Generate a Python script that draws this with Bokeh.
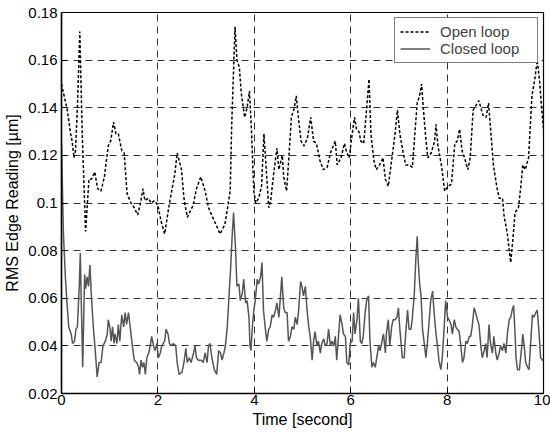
from bokeh.plotting import figure
from bokeh.models import FixedTicker, Legend, LegendItem
from bokeh.embed import file_html
from bokeh.resources import INLINE

# ---------------- data ----------------
t_open = [0.00, 0.12, 0.19, 0.22, 0.26, 0.29, 0.33, 0.38, 0.43, 0.50, 0.57, 0.62, 0.69, 0.75,
          0.82, 0.89, 0.97, 1.02, 1.08, 1.13, 1.18, 1.25, 1.30, 1.36, 1.44, 1.51, 1.58, 1.64,
          1.69, 1.73, 1.80, 1.86, 1.93, 2.00, 2.07, 2.14, 2.24, 2.35, 2.40, 2.49, 2.54, 2.61,
          2.73, 2.80, 2.89, 2.98, 3.05, 3.18, 3.29, 3.39, 3.50, 3.53, 3.60, 3.64, 3.69, 3.73,
          3.80, 3.85, 3.90, 3.94, 3.99, 4.03, 4.09, 4.15, 4.20, 4.30, 4.34, 4.40, 4.47, 4.51,
          4.58, 4.61, 4.67, 4.72, 4.77, 4.83, 4.87, 4.92, 4.97, 5.03, 5.10, 5.17, 5.23, 5.29,
          5.36, 5.43, 5.51, 5.58, 5.68, 5.72, 5.80, 5.87, 5.92, 5.97, 6.03, 6.08, 6.12, 6.17,
          6.21, 6.27, 6.34, 6.38, 6.42, 6.48, 6.53, 6.60, 6.67, 6.72, 6.78, 6.85, 6.92, 6.97,
          7.02, 7.09, 7.14, 7.21, 7.28, 7.33, 7.38, 7.43, 7.47, 7.51, 7.55, 7.60, 7.67, 7.74,
          7.77, 7.81, 7.88, 7.92, 7.95, 8.02, 8.09, 8.16, 8.21, 8.26, 8.31, 8.36, 8.43, 8.48,
          8.54, 8.60, 8.66, 8.74, 8.81, 8.86, 8.91, 8.96, 9.03, 9.08, 9.15, 9.18, 9.25, 9.32,
          9.37, 9.41, 9.48, 9.53, 9.57, 9.62, 9.69, 9.76, 9.82, 9.87, 9.92, 9.96, 10.0]
open_loop = [0.150, 0.139, 0.129, 0.126, 0.119, 0.122, 0.140, 0.172, 0.129, 0.088, 0.110, 0.110,
             0.113, 0.106, 0.105, 0.111, 0.124, 0.126, 0.134, 0.129, 0.129, 0.122, 0.121, 0.104,
             0.100, 0.098, 0.095, 0.100, 0.106, 0.101, 0.102, 0.100, 0.101, 0.099, 0.092, 0.087,
             0.100, 0.112, 0.121, 0.114, 0.102, 0.094, 0.099, 0.106, 0.111, 0.105, 0.098, 0.092,
             0.087, 0.091, 0.105, 0.132, 0.174, 0.160, 0.157, 0.146, 0.136, 0.140, 0.147, 0.131,
             0.105, 0.100, 0.102, 0.107, 0.129, 0.098, 0.101, 0.112, 0.123, 0.114, 0.120, 0.111,
             0.105, 0.120, 0.136, 0.140, 0.145, 0.135, 0.126, 0.124, 0.127, 0.136, 0.126, 0.125,
             0.118, 0.114, 0.115, 0.121, 0.126, 0.116, 0.119, 0.125, 0.121, 0.119, 0.129, 0.136,
             0.131, 0.130, 0.126, 0.125, 0.142, 0.152, 0.129, 0.118, 0.114, 0.116, 0.119, 0.110,
             0.107, 0.118, 0.129, 0.139, 0.129, 0.121, 0.116, 0.116, 0.115, 0.129, 0.142, 0.145,
             0.150, 0.139, 0.129, 0.119, 0.121, 0.126, 0.133, 0.124, 0.116, 0.110, 0.105, 0.107,
             0.108, 0.125, 0.126, 0.131, 0.122, 0.119, 0.114, 0.119, 0.139, 0.141, 0.143, 0.137,
             0.136, 0.142, 0.129, 0.116, 0.107, 0.102, 0.102, 0.095, 0.087, 0.075, 0.086, 0.096,
             0.098, 0.107, 0.116, 0.114, 0.119, 0.145, 0.152, 0.160, 0.151, 0.140, 0.131]

t_closed = [0.00, 0.04, 0.08, 0.11, 0.15, 0.20, 0.23, 0.27, 0.30, 0.33, 0.37, 0.39, 0.41, 0.44,
            0.48, 0.50, 0.53, 0.56, 0.59, 0.62, 0.66, 0.70, 0.74, 0.78, 0.82, 0.86, 0.91, 0.95,
            0.97, 1.01, 1.03, 1.06, 1.09, 1.11, 1.15, 1.18, 1.21, 1.25, 1.29, 1.32, 1.35, 1.39,
            1.43, 1.47, 1.51, 1.56, 1.60, 1.62, 1.65, 1.68, 1.71, 1.74, 1.77, 1.81, 1.84, 1.87,
            1.91, 1.94, 1.98, 2.01, 2.05, 2.08, 2.14, 2.17, 2.21, 2.24, 2.28, 2.32, 2.37, 2.40,
            2.44, 2.50, 2.54, 2.58, 2.61, 2.65, 2.69, 2.74, 2.77, 2.80, 2.84, 2.90, 2.94, 2.98,
            3.02, 3.05, 3.08, 3.12, 3.17, 3.22, 3.26, 3.30, 3.33, 3.37, 3.40, 3.44, 3.47, 3.51,
            3.54, 3.57, 3.61, 3.64, 3.68, 3.71, 3.75, 3.78, 3.82, 3.85, 3.89, 3.91, 3.93, 3.96,
            3.99, 4.02, 4.06, 4.09, 4.13, 4.16, 4.19, 4.23, 4.26, 4.30, 4.33, 4.37, 4.40, 4.44,
            4.47, 4.51, 4.54, 4.57, 4.61, 4.64, 4.68, 4.71, 4.75, 4.78, 4.82, 4.85, 4.89, 4.92,
            4.96, 4.99, 5.02, 5.06, 5.09, 5.13, 5.16, 5.20, 5.23, 5.26, 5.30, 5.33, 5.37, 5.40,
            5.44, 5.47, 5.51, 5.54, 5.58, 5.61, 5.65, 5.68, 5.71, 5.75, 5.78, 5.82, 5.85, 5.89,
            5.92, 5.96, 5.99, 6.03, 6.06, 6.09, 6.13, 6.16, 6.20, 6.23, 6.26, 6.30, 6.33, 6.37,
            6.40, 6.44, 6.47, 6.51, 6.54, 6.58, 6.61, 6.64, 6.68, 6.72, 6.74, 6.78, 6.81, 6.85,
            6.88, 6.92, 6.96, 6.99, 7.02, 7.05, 7.07, 7.11, 7.14, 7.18, 7.21, 7.25, 7.28, 7.32,
            7.35, 7.38, 7.40, 7.43, 7.46, 7.49, 7.52, 7.56, 7.59, 7.63, 7.66, 7.70, 7.73, 7.77,
            7.80, 7.83, 7.87, 7.90, 7.94, 7.97, 8.01, 8.04, 8.08, 8.11, 8.15, 8.18, 8.21, 8.25,
            8.28, 8.32, 8.35, 8.39, 8.42, 8.46, 8.49, 8.52, 8.56, 8.59, 8.63, 8.66, 8.70, 8.73,
            8.77, 8.80, 8.83, 8.87, 8.90, 8.94, 8.97, 9.01, 9.04, 9.08, 9.11, 9.15, 9.18, 9.22,
            9.25, 9.29, 9.32, 9.35, 9.38, 9.41, 9.43, 9.46, 9.50, 9.55, 9.57, 9.60, 9.63, 9.67,
            9.70, 9.73, 9.77, 9.80, 9.84, 9.87, 9.91, 9.94, 9.98, 10.0]
closed_loop = [0.125, 0.087, 0.069, 0.059, 0.048, 0.045, 0.041, 0.042, 0.047, 0.048, 0.066, 0.079,
               0.059, 0.031, 0.070, 0.064, 0.069, 0.065, 0.074, 0.061, 0.048, 0.038, 0.027, 0.033,
               0.033, 0.040, 0.042, 0.045, 0.051, 0.047, 0.042, 0.048, 0.041, 0.045, 0.041, 0.049,
               0.042, 0.053, 0.048, 0.054, 0.049, 0.054, 0.047, 0.040, 0.034, 0.033, 0.031, 0.028,
               0.034, 0.031, 0.033, 0.028, 0.035, 0.037, 0.040, 0.044, 0.040, 0.038, 0.041, 0.035,
               0.037, 0.040, 0.042, 0.047, 0.045, 0.041, 0.040, 0.041, 0.040, 0.033, 0.028, 0.029,
               0.033, 0.039, 0.033, 0.035, 0.033, 0.037, 0.040, 0.035, 0.034, 0.034, 0.033, 0.037,
               0.033, 0.040, 0.041, 0.035, 0.030, 0.028, 0.038, 0.037, 0.034, 0.037, 0.040, 0.048,
               0.059, 0.073, 0.086, 0.096, 0.081, 0.065, 0.066, 0.059, 0.062, 0.068, 0.058, 0.059,
               0.052, 0.040, 0.038, 0.048, 0.055, 0.059, 0.068, 0.066, 0.069, 0.075, 0.055, 0.047,
               0.042, 0.047, 0.048, 0.053, 0.052, 0.055, 0.058, 0.052, 0.060, 0.069, 0.056, 0.054,
               0.054, 0.042, 0.044, 0.048, 0.047, 0.052, 0.049, 0.055, 0.067, 0.065, 0.061, 0.065,
               0.056, 0.048, 0.044, 0.034, 0.042, 0.046, 0.040, 0.042, 0.037, 0.041, 0.043, 0.040,
               0.041, 0.047, 0.040, 0.042, 0.040, 0.044, 0.034, 0.045, 0.053, 0.049, 0.045, 0.044,
               0.033, 0.032, 0.041, 0.042, 0.054, 0.045, 0.051, 0.060, 0.042, 0.041, 0.044, 0.054,
               0.059, 0.061, 0.042, 0.031, 0.033, 0.031, 0.035, 0.040, 0.038, 0.041, 0.045, 0.037,
               0.045, 0.051, 0.040, 0.048, 0.051, 0.051, 0.052, 0.056, 0.047, 0.040, 0.035, 0.035,
               0.045, 0.055, 0.047, 0.047, 0.052, 0.062, 0.076, 0.086, 0.076, 0.066, 0.061, 0.047,
               0.042, 0.035, 0.041, 0.051, 0.059, 0.063, 0.054, 0.045, 0.040, 0.034, 0.030, 0.035,
               0.048, 0.059, 0.052, 0.051, 0.049, 0.045, 0.051, 0.048, 0.047, 0.046, 0.041, 0.033,
               0.035, 0.042, 0.041, 0.044, 0.044, 0.048, 0.056, 0.054, 0.051, 0.049, 0.040, 0.035,
               0.038, 0.041, 0.035, 0.049, 0.041, 0.037, 0.044, 0.037, 0.034, 0.037, 0.040, 0.038,
               0.041, 0.037, 0.045, 0.051, 0.052, 0.055, 0.057, 0.045, 0.035, 0.030, 0.030, 0.040,
               0.045, 0.040, 0.033, 0.031, 0.030, 0.040, 0.053, 0.052, 0.054, 0.055, 0.045, 0.035,
               0.034, 0.034]

x_ticks = [0, 2, 4, 6, 8, 10]
x_tick_labels = ["0", "2", "4", "6", "8", "10"]
y_ticks = [0.02, 0.04, 0.06, 0.08, 0.10, 0.12, 0.14, 0.16, 0.18]
y_tick_labels = ["0.02", "0.04", "0.06", "0.08", "0.1", "0.12", "0.14", "0.16", "0.18"]
series_names = ["Open loop", "Closed loop"]

FONT = "Liberation Sans"

p = figure(output_backend="svg", toolbar_location=None,
           width=550, height=435,
           min_border_left=61, min_border_right=7, min_border_top=12, min_border_bottom=42,
           x_range=(0, 10), y_range=(0.02, 0.18),
           background_fill_color="white", border_fill_color="white")

r_open = p.line(t_open, open_loop, line_color="black", line_width=1.5, line_dash="3 2")
r_closed = p.line(t_closed, closed_loop, line_color="#555555", line_width=1.5)

for ax, ticks, labels in ((p.xaxis[0], x_ticks, x_tick_labels), (p.yaxis[0], y_ticks, y_tick_labels)):
    ax.ticker = FixedTicker(ticks=ticks)
    ax.major_label_overrides = {t: l for t, l in zip(ticks, labels)}
    ax.major_tick_in = 5
    ax.major_tick_out = 0
    ax.minor_tick_in = 0
    ax.minor_tick_out = 0
    ax.axis_line_color = "black"
    ax.axis_line_width = 1.5
    ax.major_tick_line_color = "black"
    ax.major_label_text_font = FONT
    ax.major_label_text_color = "black"
    ax.axis_label_text_font = FONT
    ax.axis_label_text_font_style = "normal"
    ax.axis_label_text_color = "black"

p.xaxis.axis_label = "Time [second]"
p.yaxis.axis_label = "RMS Edge Reading [\u00b5m]"
p.xaxis.major_label_text_font_size = "15px"
p.xaxis.axis_label_text_font_size = "16px"
p.yaxis.major_label_text_font_size = "15px"
p.yaxis.axis_label_text_font_size = "16px"
p.xaxis.major_label_standoff = 1
p.xaxis.axis_label_standoff = 3
p.yaxis.major_label_standoff = 4
p.yaxis.axis_label_standoff = 4

for g in (p.xgrid[0], p.ygrid[0]):
    g.grid_line_color = "black"
    g.grid_line_alpha = 0.8
    g.grid_line_dash = "7 5"
    g.grid_line_width = 1
p.xgrid[0].ticker = FixedTicker(ticks=x_ticks)
p.ygrid[0].ticker = FixedTicker(ticks=y_ticks)

p.outline_line_color = "black"
p.outline_line_width = 1.2

legend = Legend(items=[LegendItem(label=series_names[0], renderers=[r_open]),
                       LegendItem(label=series_names[1], renderers=[r_closed])],
                location="top_right", margin=5, padding=5, spacing=0,
                glyph_width=30, glyph_height=15, label_height=15, label_standoff=10,
                label_width=92,
                label_text_font=FONT, label_text_font_size="15px",
                border_line_color="black", border_line_width=1.2,
                background_fill_alpha=1.0)
p.add_layout(legend)

open("out.html", "w").write(file_html(p, INLINE))
